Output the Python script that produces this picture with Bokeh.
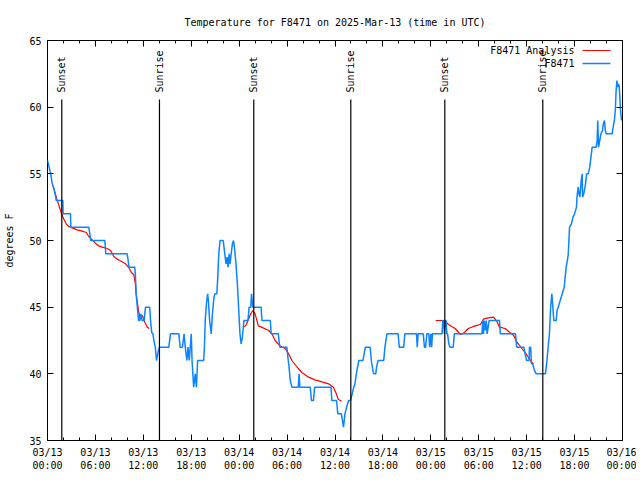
import numpy as np
from bokeh.plotting import figure
from bokeh.models import Range1d, FixedTicker, LinearAxis, Label
from bokeh.core.properties import value
from bokeh.embed import file_html
from bokeh.resources import INLINE

# ---------------- data ----------------
title_text = "Temperature for F8471 on 2025-Mar-13 (time in UTC)"
y_label = "degrees F"
series_names = ["F8471 Analysis", "F8471"]

# x is hours since 03/13 00:00 UTC
tick_hours = [0, 6, 12, 18, 24, 30, 36, 42, 48, 54, 60, 66, 72]
tick_labels = ["03/13\n00:00", "03/13\n06:00", "03/13\n12:00", "03/13\n18:00",
               "03/14\n00:00", "03/14\n06:00", "03/14\n12:00", "03/14\n18:00",
               "03/15\n00:00", "03/15\n06:00", "03/15\n12:00", "03/15\n18:00",
               "03/16\n00:00"]
minor_hours = [h for h in range(0, 73, 2) if h % 6 != 0]
y_ticks = [35, 40, 45, 50, 55, 60, 65]

sun_hours = [1.79, 14.02, 25.83, 37.98, 49.75, 62.02]
sun_labels = ["Sunset", "Sunrise", "Sunset", "Sunrise", "Sunset", "Sunrise"]

obs_hours = [
    0.0, 0.2, 0.4, 0.6, 0.75, 0.95, 1.1, 1.92, 1.95, 2.88, 2.92, 5.17, 5.3, 5.4,
    7.18, 7.3, 9.98, 10.1, 10.2, 10.93, 11.0, 11.1, 11.25, 11.4, 11.55, 11.7,
    11.85, 12.1, 12.27, 12.8, 12.9, 13.05, 13.2, 13.35, 13.5, 13.65, 13.8, 14.0,
    15.19, 15.4, 16.45, 16.6, 16.9, 17.1, 17.25, 17.45, 17.6, 17.75, 18.0, 18.1,
    18.3, 18.5, 18.65, 18.8, 19.55, 19.65, 19.75, 19.9, 20.05, 20.15, 20.3, 20.5,
    20.65, 20.85, 20.95, 21.2, 21.3, 21.45, 21.6, 22.0, 22.1, 22.2, 22.35, 22.5,
    22.6, 22.75, 22.85, 23.0, 23.15, 23.3, 23.45, 23.6, 23.8, 23.95, 24.1, 24.25,
    24.4, 24.6, 25.1, 25.25, 25.45, 25.55, 25.7, 26.75, 26.85, 27.9, 28.0, 28.9,
    29.0, 29.1, 29.97, 30.1, 30.25, 30.4, 30.6, 31.4, 31.5, 31.6, 32.9, 33.05,
    33.3, 33.45, 35.5, 35.6, 36.2, 36.35, 36.8, 37.06, 37.25, 37.45, 37.7, 37.94,
    38.15, 38.35, 38.5, 38.7, 38.98, 39.5, 39.65, 39.8, 40.4, 40.55, 40.75, 40.85,
    41.1, 41.2, 41.4, 42.1, 42.25, 42.5, 43.9, 44.05, 44.6, 44.75, 46.2, 46.3,
    46.4, 47.05, 47.2, 47.35, 47.5, 47.75, 47.85, 48.0, 48.1, 48.2, 48.9, 49.4,
    49.5, 49.6, 49.7, 49.8, 49.9, 50.0, 50.1, 50.25, 50.4, 50.8, 50.95, 54.4,
    54.5, 54.6, 54.7, 54.85, 54.95, 55.05, 55.3, 56.6, 56.7, 58.6, 58.75, 59.65,
    59.8, 60.0, 60.3, 60.35, 60.5, 60.6, 60.75, 60.95, 61.2, 62.35, 62.5, 62.65,
    62.85, 63.0, 63.15, 63.25, 63.4, 63.7, 63.8, 63.95, 64.2, 64.45, 64.7, 64.86,
    64.95, 65.2, 65.37, 65.6, 65.8, 66.0, 66.24, 66.3, 66.45, 66.55, 66.66, 66.83,
    66.95, 67.0, 67.15, 67.37, 67.5, 67.7, 67.9, 68.1, 68.2, 68.7, 68.83, 68.9,
    69.0, 69.15, 69.3, 69.5, 69.6, 69.75, 69.85, 69.96, 70.7, 70.9, 71.0, 71.1,
    71.2, 71.3, 71.4, 71.5, 71.6, 71.75, 71.88]
obs_temps = [
    56, 55.5, 55, 54.25, 54, 53.5, 53, 53, 52, 52, 51, 51, 50.5, 50,
    50, 49, 49, 48.5, 48, 48, 47.5, 46, 45, 44, 44, 44.5,
    44, 44, 45, 45, 44, 43.1, 43, 42.4, 42, 41, 41.5, 42,
    42, 43, 43, 42, 42, 43, 42, 41, 42, 41, 43, 41,
    39, 40, 39, 41, 41, 42, 44, 45.25, 46, 45.5, 44, 43,
    44.5, 45.75, 46, 46, 47, 49, 50, 50, 49.5, 49, 48.25, 48.75,
    48, 49, 48.25, 49, 49.75, 50, 49.25, 48.25, 46.5, 44.75, 43, 42.25,
    42.75, 44, 44, 45, 45, 46, 45, 45, 44, 44, 43, 43,
    42.4, 42, 42, 41.25, 40.5, 39.5, 39, 39, 40, 39, 39, 38,
    38, 39, 39, 38, 38, 37, 37, 36, 37, 37.5, 38, 38,
    38.5, 39, 39.25, 40.1, 41, 41, 41.5, 42, 42, 41, 40.25, 40,
    40, 40.5, 41, 41, 42, 43, 43, 42, 42, 43, 43, 42,
    43, 43, 42, 42, 43, 43, 42, 43, 42, 43, 43, 43,
    44, 44, 43, 44, 44, 43, 43, 42.25, 42, 42, 43, 43,
    44, 43, 44, 43.25, 44, 43, 44, 44, 43, 43, 42, 42,
    41.5, 41, 41, 42, 42, 40.75, 40.75, 40.3, 40, 40, 40.75, 41.75,
    43, 45, 46, 45.25, 44, 44, 44.75, 45, 45.5, 46, 46.5, 47.5,
    48, 48.9, 51, 51.25, 51.75, 52, 52.5, 53.25, 54, 53.5, 53.25, 54.5,
    55, 53.25, 53.5, 54.25, 55, 55, 55.5, 56.5, 57, 57, 57.5, 59,
    57, 57.5, 58, 58.25, 58.75, 59, 58.25, 58, 58, 58.75, 59.1, 59.75,
    61.25, 62, 61.5, 61.75, 61.5, 59.75, 59]

ana_day1_hours = [0.67, 0.85, 1.2, 1.5, 1.75, 2.05, 2.34, 2.67, 3.09, 3.7, 4.34,
                  4.85, 5.17, 5.6, 6.0, 6.4, 6.85, 7.47, 7.9, 8.3, 8.75, 9.35,
                  9.77, 10.2, 10.5, 10.8, 11.0, 11.1, 11.4, 11.6, 11.85, 12.0,
                  12.15, 12.5, 12.75]
ana_day1_temps = [54.1, 53.8, 53.05, 52.5, 52.0, 51.6, 51.25, 51.05, 50.95, 50.8,
                  50.7, 50.6, 50.3, 50.05, 49.8, 49.6, 49.5, 49.4, 49.25, 48.8,
                  48.6, 48.4, 48.25, 47.95, 47.6, 47.45, 46.75, 46.0, 44.75,
                  44.1, 44.4, 44.2, 43.9, 43.5, 43.4]
ana_day2_hours = [24.65, 24.9, 25.17, 25.45, 25.7, 26.0, 26.4, 26.8, 27.7, 28.1,
                  28.5, 29.1, 29.76, 30.2, 30.6, 31.4, 31.85, 32.7, 33.5, 34.35,
                  35.2, 35.8, 36.1, 36.4, 36.8]
ana_day2_temps = [43.5, 43.7, 44.1, 44.5, 44.75, 44.5, 43.6, 43.5, 43.25, 43.0,
                  42.5, 42.1, 41.9, 41.5, 41.0, 40.4, 40.1, 39.75, 39.55, 39.4,
                  39.25, 39.0, 38.6, 38.1, 37.95]
ana_day3_hours = [48.6, 49.8, 50.1, 50.6, 51.05, 51.7, 52.1, 52.7, 53.55, 54.2,
                  54.6, 55.2, 55.85, 56.26, 56.6, 57.3, 57.9, 58.35, 58.77, 59.4,
                  59.8, 60.2, 60.6, 60.86]
ana_day3_temps = [44.0, 44.0, 43.75, 43.55, 43.4, 42.95, 43.05, 43.4, 43.6, 43.7,
                  44.1, 44.2, 44.25, 43.95, 43.5, 43.4, 43.1, 42.9, 42.4, 41.9,
                  41.6, 41.25, 40.9, 40.75]

# ---------------- style ----------------
FONT = "DejaVu Sans Mono"
FS = "10px"
RED = "#ff0000"
BLUE = "#0a84ff"

x0, x1 = tick_hours[0], tick_hours[-1]
y0, y1 = y_ticks[0], y_ticks[-1]

p = figure(width=636, height=476, x_range=Range1d(x0, x1), y_range=Range1d(y0, y1),
           output_backend="svg", toolbar_location=None,
           min_border_left=47, min_border_right=14, min_border_top=40, min_border_bottom=36)
p.background_fill_color = "white"
p.border_fill_color = "white"
p.outline_line_color = "black"
p.outline_line_width = 1
p.outline_line_alpha = 1.0
p.grid.visible = False

p.title.text = title_text
p.title.align = "center"
p.title.text_font = FONT
p.title.text_font_size = FS
p.title.text_font_style = "normal"
p.title.text_color = "black"
p.title.standoff = 26

xt = FixedTicker(ticks=tick_hours, minor_ticks=minor_hours)
yt = FixedTicker(ticks=y_ticks, minor_ticks=[])


def style_axis(ax):
    ax.axis_line_color = None
    ax.major_tick_in = 6
    ax.major_tick_out = 0
    ax.minor_tick_in = 3
    ax.minor_tick_out = 0
    ax.major_tick_line_color = "black"
    ax.minor_tick_line_color = "black"
    ax.major_label_text_font = FONT
    ax.major_label_text_font_size = FS
    ax.major_label_text_color = "black"
    ax.axis_label_text_font = FONT
    ax.axis_label_text_font_size = FS
    ax.axis_label_text_font_style = "normal"
    ax.axis_label_text_color = "black"


xa = p.xaxis[0]
xa.ticker = xt
xa.major_label_overrides = {h: t for h, t in zip(tick_hours, tick_labels)}
style_axis(xa)
xa.major_label_standoff = 6

ya = p.yaxis[0]
ya.ticker = yt
ya.axis_label = y_label
style_axis(ya)
ya.major_label_standoff = 6
ya.axis_label_standoff = 11

# mirrored tick marks (no labels) on top and right
top = LinearAxis(ticker=xt)
style_axis(top)
top.major_label_overrides = {h: "" for h in tick_hours}
top.major_label_standoff = 0
p.add_layout(top, "above")
right = LinearAxis(ticker=yt)
style_axis(right)
right.major_label_overrides = {t: "" for t in y_ticks}
right.major_label_standoff = 0
p.add_layout(right, "right")

# analysis (red) and observations (blue)
for hh, tt in [(ana_day1_hours, ana_day1_temps), (ana_day2_hours, ana_day2_temps),
               (ana_day3_hours, ana_day3_temps)]:
    p.line(hh, tt, line_color=RED, line_width=1.2)
p.line(obs_hours, obs_temps, line_color=BLUE, line_width=1.5)

# sunrise / sunset markers
span = y1 - y0
line_top = y0 + 0.8525 * span
label_y = y0 + 0.87 * span
n = len(sun_hours)
p.segment(x0=sun_hours, y0=[y0] * n, x1=sun_hours, y1=[line_top] * n,
          line_color="black", line_width=1.2)
p.text(x=sun_hours, y=[label_y] * n, text=sun_labels, angle=np.pi / 2,
       text_align="left", text_baseline="middle", text_font=value(FONT),
       text_font_size=FS, text_color="black")

# gnuplot-style key (top right: text then sample)
xspan = x1 - x0
key_text_x = x0 + 0.9165 * xspan
key_s0 = x0 + 0.9305 * xspan
key_s1 = x0 + 0.979 * xspan
key_y = [y0 + 0.975 * span, y0 + 0.9425 * span]
for name, col, ky in zip(series_names, [RED, BLUE], key_y):
    p.add_layout(Label(x=key_text_x, y=ky, text=name, text_align="right",
                       text_baseline="middle", text_font=FONT, text_font_size=FS,
                       text_color="black"))
    p.segment(x0=[key_s0], y0=[ky], x1=[key_s1], y1=[ky], line_color=col,
              line_width=1.2 if col == RED else 1.5)

open("out.html", "w").write(file_html(p, INLINE))
